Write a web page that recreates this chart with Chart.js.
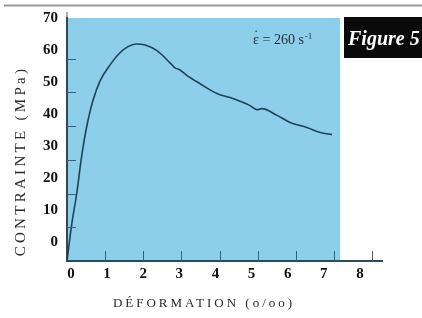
<!DOCTYPE html>
<html>
<head>
<meta charset="utf-8">
<script src="https://cdn.jsdelivr.net/npm/chart.js@4.4.1/dist/chart.umd.min.js"></script>
<style>
  html, body { margin: 0; padding: 0; background: #fff; }
  #c { display: block; }
</style>
</head>
<body>
<canvas id="c" width="422" height="318"></canvas>
<script>
// courbe contrainte / déformation
const deformation = [0, 0.12, 0.26, 0.37, 0.45, 0.55, 0.68, 0.87, 1.13, 1.39, 1.60, 1.81, 2.05, 2.36, 2.70, 2.83, 2.94, 3.15, 3.49, 3.93, 4.35, 4.80, 4.98, 5.11, 5.51, 5.85, 6.29, 6.64, 6.95];
const contrainte = [0, 10.6, 20.4, 29.9, 35.8, 41.7, 47.6, 53.5, 58.2, 61.8, 63.6, 64.4, 64.1, 62.4, 58.8, 57.3, 56.8, 55.0, 52.6, 49.7, 48.2, 46.1, 44.9, 45.2, 43.2, 41.1, 39.6, 38.1, 37.5];

// graduations imprimées
const xTickLabels = [0, 1, 2, 3, 4, 5, 6, 7, 8];
const yTickLabels = [0, 10, 20, 30, 40, 50, 60, 70];
// petits traits de graduation dans le cadre
const xTickMarks = [1, 2, 3, 4, 5, 6, 7, 8];
const yTickMarks = [10, 20, 30, 40, 50, 60];

const fondFinX = 7.16; // fin du fond bleu (en o/oo)
const axisColor = "#2b4a5a";

const decor = {
    id: "decor",
    beforeDraw(chart) {
        const ctx = chart.ctx;
        const a = chart.chartArea;
        const x = chart.scales.x;
        ctx.save();
        ctx.fillStyle = "#fff";
        ctx.fillRect(0, 0, chart.width, chart.height);
        // filet gris en haut de page
        ctx.strokeStyle = "#9a9a9a";
        ctx.lineWidth = 2;
        ctx.beginPath();
        ctx.moveTo(4, 5.5);
        ctx.lineTo(chart.width, 5.5);
        ctx.stroke();
        // fond bleu
        ctx.fillStyle = "#8dcfea";
        ctx.fillRect(a.left, a.top, x.getPixelForValue(fondFinX) - a.left, a.bottom - a.top + 1);
        ctx.restore();
    },
    afterDatasetsDraw(chart) {
        const ctx = chart.ctx;
        const a = chart.chartArea;
        const x = chart.scales.x, y = chart.scales.y;
        ctx.save();
        ctx.strokeStyle = "#3c5e6e";
        ctx.lineWidth = 1;
        ctx.beginPath();
        xTickMarks.forEach(v => {
            const px = Math.round(x.getPixelForValue(v)) + 0.5;
            ctx.moveTo(px, a.bottom);
            ctx.lineTo(px, a.bottom - 10);
        });
        yTickMarks.forEach(v => {
            const py = Math.round(y.getPixelForValue(v)) + 0.5;
            ctx.moveTo(a.left, py);
            ctx.lineTo(a.left + 9, py);
        });
        // l'axe vertical dépasse un peu le fond
        ctx.moveTo(a.left, a.top);
        ctx.lineTo(a.left, a.top - 6);
        ctx.stroke();
        ctx.restore();
    },
    afterDraw(chart) {
        const ctx = chart.ctx;
        const x = chart.scales.x, y = chart.scales.y;
        ctx.save();
        // cartouche "Figure 5"
        ctx.fillStyle = "#0a0a0a";
        ctx.fillRect(344, 17, chart.width - 344, 41);
        ctx.fillStyle = "#fff";
        ctx.font = "italic bold 20px 'Liberation Serif', serif";
        ctx.textAlign = "left";
        ctx.textBaseline = "alphabetic";
        ctx.fillText("Figure 5", 348, 45);

        // vitesse de déformation
        const ax = x.getPixelForValue(4.88), ay = y.getPixelForValue(64.4);
        ctx.fillStyle = "#1c2c36";
        ctx.font = "14px 'Liberation Serif', serif";
        const eps = "ε";
        const we = ctx.measureText(eps).width;
        ctx.fillText(eps, ax, ay);
        ctx.textAlign = "center";
        ctx.fillText("˙", ax + we / 2, ay - 4);
        ctx.textAlign = "left";
        const txt = " = 260 s";
        ctx.fillText(txt, ax + we, ay);
        const w = ctx.measureText(txt).width;
        ctx.font = "9px 'Liberation Serif', serif";
        ctx.fillText("-1", ax + we + w + 1, ay - 5);

        // titres des axes
        ctx.fillStyle = "#2a2a2a";
        ctx.letterSpacing = "3px";
        ctx.font = "13px 'Liberation Serif', serif";
        ctx.textAlign = "center";
        ctx.textBaseline = "middle";
        ctx.fillText("DÉFORMATION (o/oo)", 204, 304);

        ctx.letterSpacing = "3.3px";
        ctx.font = "15px 'Liberation Serif', serif";
        ctx.translate(21, 161);
        ctx.rotate(-Math.PI / 2);
        ctx.fillText("CONTRAINTE (MPa)", 0, 0);
        ctx.restore();
    }
};

const tickFont = { family: "'Liberation Serif', serif", size: 15, weight: "bold" };

new Chart(document.getElementById("c"), {
    type: "scatter",
    data: {
        datasets: [{
            data: deformation.map((d, i) => ({ x: d, y: contrainte[i] })),
            showLine: true,
            borderColor: "#1e4356",
            borderWidth: 1.6,
            pointRadius: 0,
            cubicInterpolationMode: "monotone",
            xAxisID: "x",
            yAxisID: "y"
        }]
    },
    options: {
        responsive: false,
        animation: false,
        devicePixelRatio: 1,
        layout: { padding: { left: 0, top: 17, right: 40, bottom: 0 } },
        plugins: { legend: { display: false }, tooltip: { enabled: false } },
        scales: {
            // échelles des données (traits de graduation)
            x: { type: "linear", display: false, min: 0, max: 8.26 },
            y: { type: "linear", display: false, min: 0, max: 72.1 },
            // échelles des étiquettes imprimées
            xl: {
                type: "linear", position: "bottom", min: -0.11, max: 8.61,
                afterBuildTicks: s => { s.ticks = xTickLabels.map(v => ({ value: v })); },
                afterFit: s => { s.height = 57; },
                grid: { drawOnChartArea: false, drawTicks: false },
                border: { display: true, color: axisColor, width: 2 },
                ticks: { autoSkip: false, maxRotation: 0, font: tickFont, color: "#111", padding: 4 }
            },
            yl: {
                type: "linear", position: "left", min: -5.86, max: 70,
                afterBuildTicks: s => { s.ticks = yTickLabels.map(v => ({ value: v })); },
                afterFit: s => { s.width = 67; },
                grid: { drawOnChartArea: false, drawTicks: false },
                border: { display: true, color: axisColor, width: 2 },
                ticks: { autoSkip: false, font: tickFont, color: "#111", padding: 9 }
            }
        }
    },
    plugins: [decor]
});
</script>
</body>
</html>
